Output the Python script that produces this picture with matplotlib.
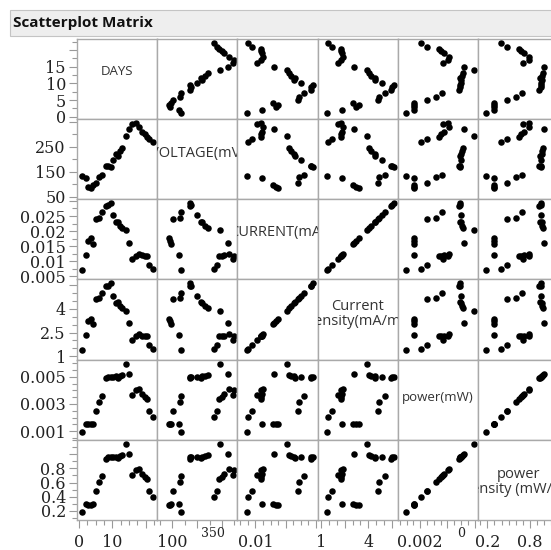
import matplotlib
matplotlib.use('Agg')
import matplotlib.pyplot as plt
from matplotlib.patches import Rectangle
from matplotlib.ticker import MultipleLocator

# wide serif digits like the JMP screenshot
plt.rcParams['font.family'] = ['DejaVu Serif']

days = [1, 2, 2.8, 3.5, 4.2, 5, 6, 7, 8, 8.8, 9.5, 10.2, 11, 11.7, 12.3, 13,
        14.1, 15, 16, 17, 18, 19, 19.8, 20.4, 21, 22]
voltage = [134, 126, 90, 86, 97, 103, 130, 137, 172, 174, 170, 198, 219, 214,
           232, 243, 294, 323, 343, 347, 330, 310, 300, 290, 281, 270]
current = [0.0071, 0.0121, 0.0168, 0.0176, 0.0157, 0.0240, 0.0244, 0.0262,
           0.0283, 0.0285, 0.0292, 0.0252, 0.0229, 0.0230, 0.0218, 0.0211,
           0.0203, 0.0161, 0.0106, 0.0117, 0.0125, 0.0120, 0.0118, 0.0117,
           0.0089, 0.0075]
current_density = [1.37, 2.33, 3.23, 3.38, 3.02, 4.62, 4.69, 5.04, 5.44, 5.48,
                   5.62, 4.85, 4.40, 4.42, 4.19, 4.06, 3.90, 3.10, 2.04, 2.25,
                   2.40, 2.31, 2.27, 2.25, 1.71, 1.44]
power = [0.00095, 0.00152, 0.00151, 0.00151, 0.00152, 0.00247, 0.00317,
         0.00359, 0.00487, 0.00496, 0.00496, 0.00499, 0.00502, 0.00492,
         0.00506, 0.00513, 0.00597, 0.00520, 0.00364, 0.00406, 0.00413,
         0.00372, 0.00354, 0.00339, 0.00250, 0.00203]
power_density = [0.183, 0.292, 0.290, 0.290, 0.292, 0.475, 0.610, 0.690,
                 0.936, 0.954, 0.954, 0.960, 0.965, 0.946, 0.973, 0.986,
                 1.148, 1.000, 0.700, 0.781, 0.794, 0.715, 0.681, 0.652,
                 0.481, 0.390]

names = ['DAYS', 'VOLTAGE(mV)', 'CURRENT(mA)', 'Current\ndensity(mA/m²)',
         'power(mW)', 'power\ndensity (mW/m²)']
columns = [days, voltage, current, current_density, power, power_density]

limits = [(-0.6, 23.4), (40, 362), (0.0040, 0.0306), (0.77, 5.88),
          (0.00035, 0.00625), (0.068, 1.20)]
minor_steps = [2.5, 50, 0.0025, 0.5, 0.0005, 0.1]

y_ticks = [[0, 5, 10, 15, 20], [50, 150, 250, 350],
           [0.005, 0.01, 0.015, 0.02, 0.025, 0.03], [1, 2.5, 4, 5.5],
           [0.001, 0.003, 0.005], [0.2, 0.4, 0.6, 0.8, 1.0]]
y_texts = [['0', '5', '10', '15', ''], ['50', '150', '250', ''],
           ['0.005', '0.01', '0.015', '0.02', '0.025', ''], ['1', '2.5', '4', ''],
           ['0.001', '0.003', '0.005'], ['0.2', '0.4', '0.6', '0.8', '']]
x_ticks = [[0, 10, 20], [100, 200, 300], [0.01, 0.02, 0.03], [1, 2.5, 4, 5.5],
           [0.002, 0.004, 0.006], [0.2, 0.8]]
x_texts = [['0', '10', ''], ['100', '', ''], ['0.01', '', ''], ['1', '', '4', ''],
           ['0.002', '', ''], ['0.2', '0.8']]
# small raised labels JMP squeezed in: (column, axes-x, text)
raised = [(1, 0.69, '350'), (4, 0.79, '0')]

label_y = [0.583, 0.574, 0.59, 0.575, 0.535, 0.477]
label_size = [9.5, 10.5, 10.5, 10.5, 9.5, 10.5]

W, H = 551, 550
LEFT, TOP, CW, CH = 77, 38.5, 80.2, 80.3
GRID = '#a9a9a9'

fig = plt.figure(figsize=(W / 100, H / 100), dpi=100)

# title bar
fig.patches.append(Rectangle((10 / W, 1 - 36 / H), 560 / W, 26 / H,
                             transform=fig.transFigure, facecolor='#eeeeee',
                             edgecolor='#c4c4c4', linewidth=0.8))
fig.text(13 / W, 1 - 23.5 / H, 'Scatterplot Matrix', family='Open Sans',
         fontweight='bold', fontsize=11, va='center', ha='left', color='#111111')

for i in range(6):
    for j in range(6):
        x0 = LEFT + j * CW
        y0 = TOP + i * CH
        ax = fig.add_axes([x0 / W, 1 - (y0 + CH) / H, CW / W, CH / H])
        ax.set_xlim(limits[j])
        ax.set_ylim(limits[i])
        for sp in ax.spines.values():
            sp.set_color(GRID)
            sp.set_linewidth(1.0)
        if i == j:
            ax.text(0.5, label_y[i], names[i], transform=ax.transAxes,
                    ha='center', va='center', fontsize=label_size[i],
                    family='Open Sans', color='#333333', clip_on=True,
                    linespacing=0.85)
        else:
            ax.scatter(columns[j], columns[i], s=22, c='black', linewidths=0,
                       clip_on=True)

        ax.tick_params(which='both', colors='#999999', labelcolor='#222222',
                       labelsize=11.5, width=0.8)
        ax.tick_params(which='major', length=6)
        ax.tick_params(which='minor', length=3.5)

        if j == 0:
            ax.set_yticks(y_ticks[i], y_texts[i])
            ax.yaxis.set_minor_locator(MultipleLocator(minor_steps[i]))
            ax.tick_params(axis='y', pad=2)
        else:
            ax.set_yticks([])

        if i == 5:
            ax.set_xticks(x_ticks[j], x_texts[j])
            ax.xaxis.set_minor_locator(MultipleLocator(minor_steps[j]))
            ax.tick_params(axis='x', pad=4)
            for col, xf, txt in raised:
                if col == j:
                    ax.text(xf, -0.17, txt, transform=ax.transAxes, ha='center',
                            va='center', fontsize=9, color='#222222')
        else:
            ax.set_xticks([])

fig.savefig('out.png', dpi=100)
